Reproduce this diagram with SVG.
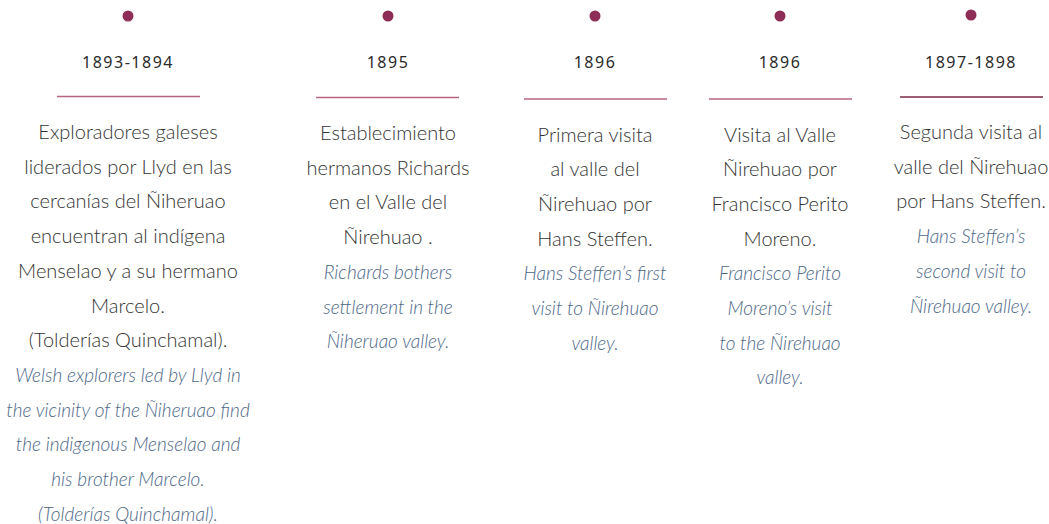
<svg xmlns="http://www.w3.org/2000/svg" width="1049" height="524" viewBox="0 0 1049 524">
<style>
.dot{fill:#8e2d55}
.yr{font-family:"Noto Sans",sans-serif;font-size:16px;letter-spacing:1.5px;fill:#2a2a2a;text-anchor:middle}
.rule{stroke:#b8647f;stroke-width:1.3}
.rule2{stroke:#7d2a4a;stroke-width:1.3}
.es{font-family:Lato,"Open Sans",sans-serif;font-weight:300;font-size:20px;fill:#333;text-anchor:middle}
.en{font-family:Lato,"Open Sans",sans-serif;font-weight:300;font-style:italic;font-size:19px;fill:#4c6787;text-anchor:middle}
</style>
<rect width="1049" height="524" fill="#fff"/>
<g id="connectors"></g>
<g id="n1">
<circle class="dot" cx="128" cy="16" r="5.5"/>
<text class="yr" x="128" y="68">1893-1894</text>
<line class="rule" x1="57" y1="96.5" x2="200" y2="96.5"/>
<text class="es" x="128" y="139">Exploradores galeses</text>
<text class="es" x="128" y="173.7">liderados por Llyd en las</text>
<text class="es" x="128" y="208.4">cercanías del Ñiheruao</text>
<text class="es" x="128" y="243.1">encuentran al indígena</text>
<text class="es" x="128" y="277.8">Menselao y a su hermano</text>
<text class="es" x="128" y="312.5">Marcelo.</text>
<text class="es" x="128" y="347.2">(Tolderías Quinchamal).</text>
<text class="en" x="128" y="381.9">Welsh explorers led by Llyd in</text>
<text class="en" x="128" y="416.6">the vicinity of the Ñiheruao find</text>
<text class="en" x="128" y="451.3">the indigenous Menselao and</text>
<text class="en" x="128" y="486">his brother Marcelo.</text>
<text class="en" x="128" y="520.7">(Tolderías Quinchamal).</text>
</g>
<g id="n2">
<circle class="dot" cx="388" cy="16" r="5.5"/>
<text class="yr" x="388" y="68">1895</text>
<line class="rule" x1="316" y1="97.5" x2="459" y2="97.5"/>
<text class="es" x="388" y="140">Establecimiento</text>
<text class="es" x="388" y="174.7">hermanos Richards</text>
<text class="es" x="388" y="209.4">en el Valle del</text>
<text class="es" x="388" y="244.1">Ñirehuao .</text>
<text class="en" x="388" y="278.8">Richards bothers</text>
<text class="en" x="388" y="313.5">settlement in the</text>
<text class="en" x="388" y="348.2">Ñiheruao valley.</text>
</g>
<g id="n3">
<circle class="dot" cx="595" cy="16" r="5.5"/>
<text class="yr" x="595" y="68">1896</text>
<line class="rule" x1="524" y1="99" x2="667" y2="99"/>
<text class="es" x="595" y="141.5">Primera visita</text>
<text class="es" x="595" y="176.2">al valle del</text>
<text class="es" x="595" y="210.9">Ñirehuao por</text>
<text class="es" x="595" y="245.6">Hans Steffen.</text>
<text class="en" x="595" y="280.3">Hans Steffen’s first</text>
<text class="en" x="595" y="315">visit to Ñirehuao</text>
<text class="en" x="595" y="349.7">valley.</text>
</g>
<g id="n4">
<circle class="dot" cx="780" cy="16" r="5.5"/>
<text class="yr" x="780" y="68">1896</text>
<line class="rule" x1="709" y1="99" x2="852" y2="99"/>
<text class="es" x="780" y="141.5">Visita al Valle</text>
<text class="es" x="780" y="176.2">Ñirehuao por</text>
<text class="es" x="780" y="210.9">Francisco Perito</text>
<text class="es" x="780" y="245.6">Moreno.</text>
<text class="en" x="780" y="280.3">Francisco Perito</text>
<text class="en" x="780" y="315">Moreno’s visit</text>
<text class="en" x="780" y="349.7">to the Ñirehuao</text>
<text class="en" x="780" y="384.4">valley.</text>
</g>
<g id="n5">
<circle class="dot" cx="971" cy="15" r="5.5"/>
<text class="yr" x="971" y="68">1897-1898</text>
<line class="rule2" x1="900" y1="97" x2="1043" y2="97"/>
<text class="es" x="971" y="139">Segunda visita al</text>
<text class="es" x="971" y="173.7">valle del Ñirehuao</text>
<text class="es" x="971" y="208.4">por Hans Steffen.</text>
<text class="en" x="971" y="243.1">Hans Steffen’s</text>
<text class="en" x="971" y="277.8">second visit to</text>
<text class="en" x="971" y="312.5">Ñirehuao valley.</text>
</g>
</svg>
